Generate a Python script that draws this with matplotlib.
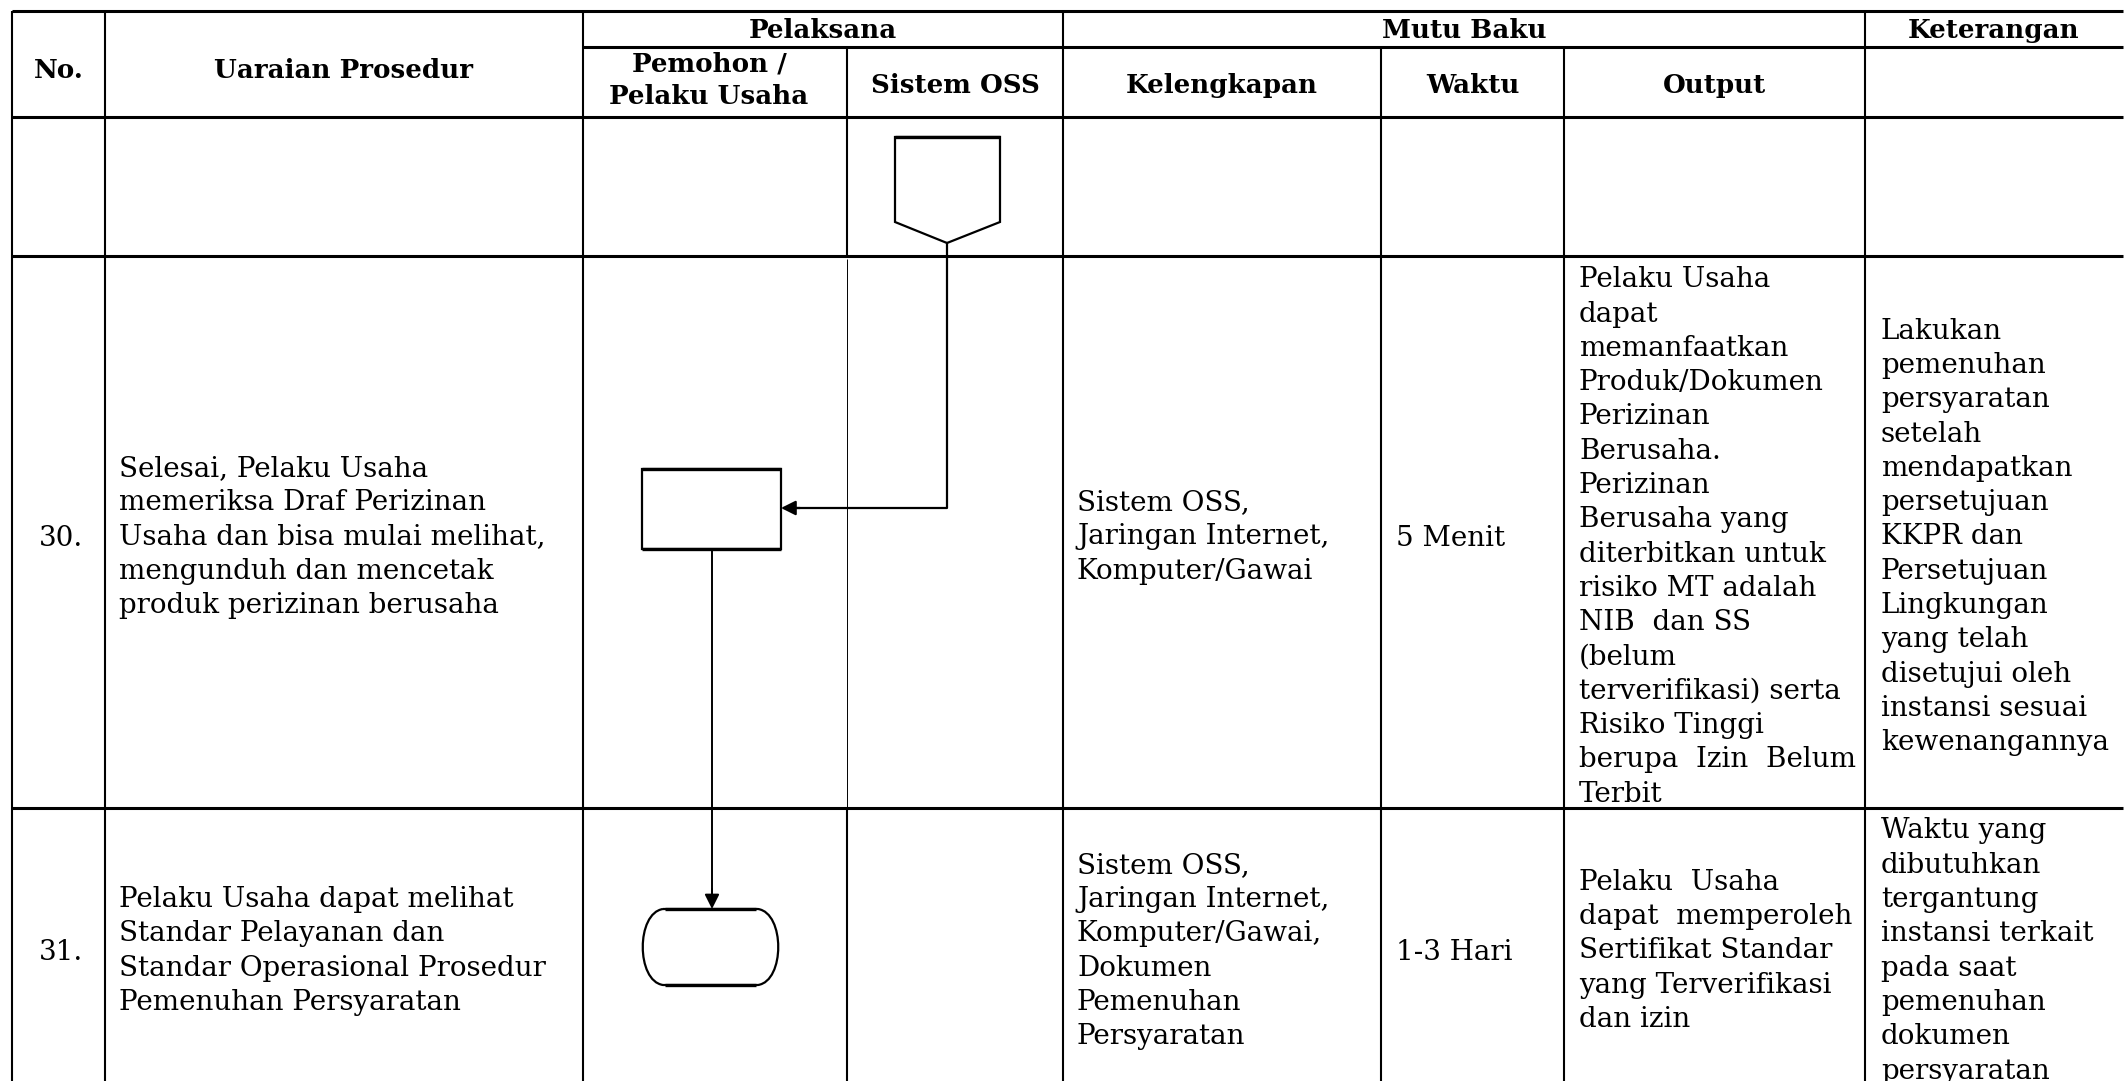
#!/usr/bin/env python3
## SOP flowchart table (rows 30-31), drawn in pixel coordinates
import matplotlib
matplotlib.use("Agg")
import matplotlib.pyplot as plt
from matplotlib.path import Path
from matplotlib.patches import PathPatch, Polygon, Rectangle

plt.rcParams["font.family"] = "DejaVu Serif"

W, H = 2125, 1081

# ---- table content
group_headers = ["Pelaksana", "Mutu Baku", "Keterangan"]
col_headers = ["No.", "Uaraian Prosedur", "Pemohon /\nPelaku Usaha", "Sistem OSS",
               "Kelengkapan", "Waktu", "Output"]
row_numbers = ["30.", "31."]
uraian = ["Selesai, Pelaku Usaha\nmemeriksa Draf Perizinan\nUsaha dan bisa mulai melihat,\nmengunduh dan mencetak\nproduk perizinan berusaha",
          "Pelaku Usaha dapat melihat\nStandar Pelayanan dan\nStandar Operasional Prosedur\nPemenuhan Persyaratan"]
kelengkapan = ["Sistem OSS,\nJaringan Internet,\nKomputer/Gawai",
               "Sistem OSS,\nJaringan Internet,\nKomputer/Gawai,\nDokumen\nPemenuhan\nPersyaratan"]
waktu = ["5 Menit", "1-3 Hari"]
output = ["Pelaku Usaha\ndapat\nmemanfaatkan\nProduk/Dokumen\nPerizinan\nBerusaha.\nPerizinan\nBerusaha yang\nditerbitkan untuk\nrisiko MT adalah\nNIB  dan SS\n(belum\nterverifikasi) serta\nRisiko Tinggi\nberupa  Izin  Belum\nTerbit",
          "Pelaku  Usaha\ndapat  memperoleh\nSertifikat Standar\nyang Terverifikasi\ndan izin"]
keterangan = ["Lakukan\npemenuhan\npersyaratan\nsetelah\nmendapatkan\npersetujuan\nKKPR dan\nPersetujuan\nLingkungan\nyang telah\ndisetujui oleh\ninstansi sesuai\nkewenangannya",
              "Waktu yang\ndibutuhkan\ntergantung\ninstansi terkait\npada saat\npemenuhan\ndokumen\npersyaratan"]

# ---- geometry (pixels)
xs = [12, 105, 583, 847, 1063, 1381, 1564, 1865, 2123]
y_top, y_mid, y_head, y_r0, y_r30 = 11, 47, 117, 256, 808
LS = 34.3  # line pitch
FS = 20.0
FSH = 18.8

fig = plt.figure(figsize=(W / 100, H / 100), dpi=100)
ax = fig.add_axes([0, 0, 1, 1])
ax.set_xlim(0, W)
ax.set_ylim(H, 0)
ax.axis("off")

lwh = 2.2
lwv = 1.5

def hline(y, x0, x1, lw=lwh):
    ax.plot([x0, x1], [y, y], color="black", lw=lw, solid_capstyle="butt")

def vline(x, y0, y1, lw=lwv):
    ax.plot([x, x], [y0, y1], color="black", lw=lw, solid_capstyle="butt")

# horizontal rules
hline(y_top, xs[0], xs[-1])
hline(y_mid, xs[2], xs[-1])
for y in [y_head, y_r0, y_r30]:
    hline(y, xs[0], xs[-1])

# vertical rules
for x in [xs[0], xs[1], xs[2], xs[4], xs[7]]:
    vline(x, y_top, H)
for x in [xs[5], xs[6]]:
    vline(x, y_mid, H)
vline(xs[3], y_mid, y_r0)
vline(xs[3], y_r0 + 3, y_r30, lw=0.7)
vline(xs[3], y_r30, H)

# header text
def htext(x, y, s, **kw):
    ax.text(x, y, s, ha="center", va="center_baseline", fontsize=FSH,
            fontweight="bold", **kw)

htext((xs[2] + xs[4]) / 2, 28, group_headers[0])
htext((xs[4] + xs[7]) / 2, 28, group_headers[1])
htext((xs[7] + xs[8]) / 2, 28, group_headers[2])
htext(59, 68, col_headers[0])
htext(344, 68, col_headers[1])
p1, p2 = col_headers[2].split("\n")
htext(709, 61, p1)
htext(709, 94, p2)
htext((xs[3] + xs[4]) / 2, 83, col_headers[3])
for i, h in enumerate(col_headers[4:]):
    htext((xs[4 + i] + xs[5 + i]) / 2, 83, h)

# body text, line by line around the row centre
def block(x, yc, s, ha="left"):
    lines = s.split("\n")
    n = len(lines)
    for k, ln in enumerate(lines):
        y = yc + (k - (n - 1) / 2) * LS
        ax.text(x, y, ln, ha=ha, va="center_baseline", fontsize=FS)

row_centres = [534, 948]
for r in range(2):
    yc = row_centres[r]
    block(61, yc + 1, row_numbers[r], ha="center")
    block(119, yc, uraian[r])
    block(1077, yc, kelengkapan[r])
    block(1396, yc + 1, waktu[r])
    block(1579, yc, output[r])
    block(1881, yc, keterangan[r])

# ---- flowchart symbols
sym_lw = 1.6
conn = Polygon([(895, 137), (1000, 137), (1000, 222), (947, 243), (895, 222)],
               closed=True, fill=False, ec="black", lw=sym_lw)
ax.add_patch(conn)
hline(137, 895, 1000, lw=2.4)

ax.add_patch(Rectangle((642, 469), 139, 80, fill=False, ec="black", lw=sym_lw))
hline(469, 642, 781, lw=2.4)
hline(549, 642, 781, lw=2.4)

# terminator with bowed sides
verts = [(663, 909), (758, 909),
         (785, 913), (785, 981), (758, 985),
         (663, 985),
         (636, 981), (636, 913), (663, 909)]
codes = [Path.MOVETO, Path.LINETO,
         Path.CURVE4, Path.CURVE4, Path.CURVE4,
         Path.LINETO,
         Path.CURVE4, Path.CURVE4, Path.CURVE4]
ax.add_patch(PathPatch(Path(verts, codes), fill=False, ec="black", lw=sym_lw))
hline(909, 665, 756, lw=2.4)
hline(985, 665, 756, lw=2.4)

# connectors
ax.plot([947, 947, 795], [243, 508, 508], color="black", lw=1.6)
ax.annotate("", xy=(781, 508), xytext=(800, 508),
            arrowprops=dict(arrowstyle="-|>", color="black", lw=1.6,
                            mutation_scale=22, shrinkA=0, shrinkB=0))
ax.plot([712, 712], [549, 895], color="black", lw=1.4)
ax.annotate("", xy=(712, 909), xytext=(712, 889),
            arrowprops=dict(arrowstyle="-|>", color="black", lw=1.4,
                            mutation_scale=22, shrinkA=0, shrinkB=0))

fig.savefig("out.png", dpi=100)
